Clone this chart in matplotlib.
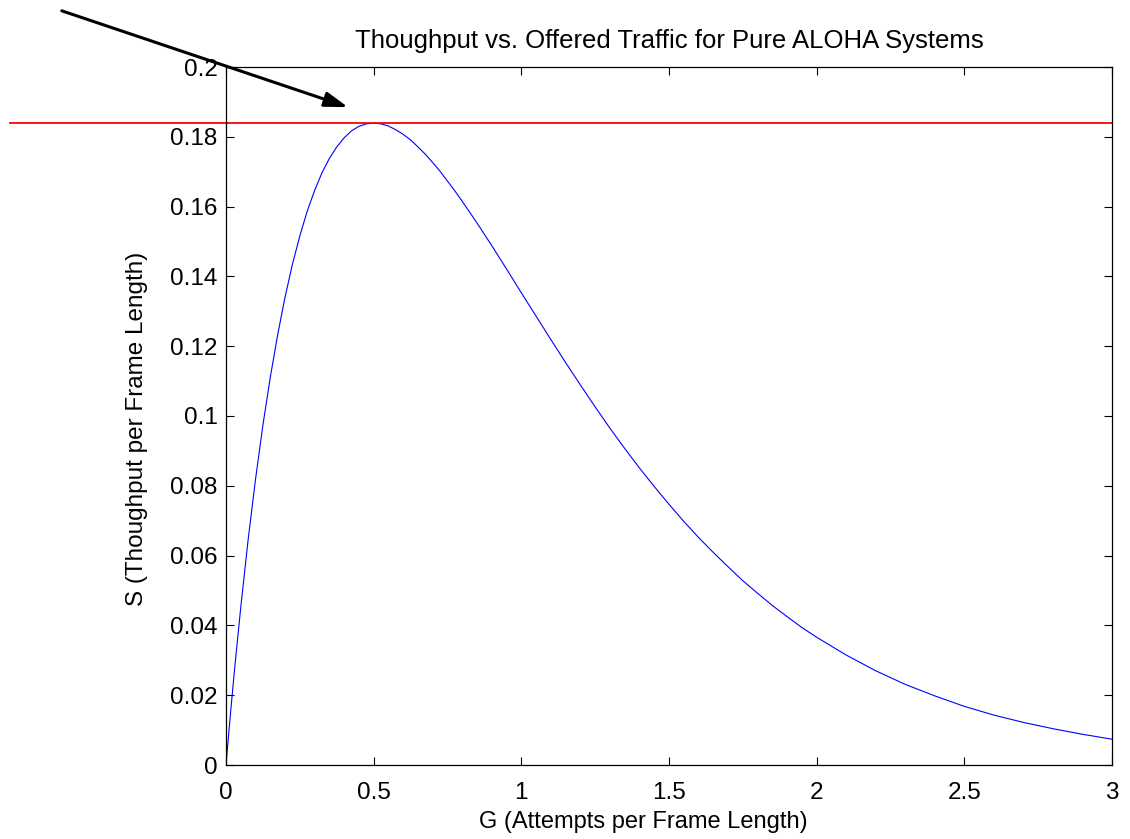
"""Pure ALOHA throughput vs offered traffic, MATLAB-style figure."""
import matplotlib
matplotlib.use("Agg")
import matplotlib.pyplot as plt

plt.rcParams["font.family"] = ["Liberation Sans", "DejaVu Sans"]

# offered traffic G and throughput S
G = [0.0, 0.01, 0.02, 0.03, 0.05, 0.075, 0.1, 0.125, 0.15, 0.175, 0.2,
     0.225, 0.25, 0.275, 0.3, 0.325, 0.35, 0.375, 0.4, 0.425, 0.45, 0.475,
     0.5, 0.525, 0.55, 0.575, 0.6, 0.625, 0.65, 0.675, 0.7, 0.725, 0.75,
     0.775, 0.8, 0.85, 0.9, 0.95, 1.0, 1.05, 1.1, 1.15, 1.2, 1.25, 1.3,
     1.35, 1.4, 1.45, 1.5, 1.55, 1.6, 1.65, 1.7, 1.75, 1.8, 1.85, 1.9,
     1.95, 2.0, 2.1, 2.2, 2.3, 2.4, 2.5, 2.6, 2.7, 2.8, 2.9, 3.0]
S = [0.0, 0.0098, 0.0192, 0.0283, 0.0452, 0.0646, 0.0819, 0.0974, 0.1111,
     0.1233, 0.1341, 0.1435, 0.1516, 0.1587, 0.1646, 0.1697, 0.1738, 0.1771,
     0.1797, 0.1817, 0.1830, 0.1837, 0.1839, 0.1837, 0.1831, 0.1820, 0.1807,
     0.1791, 0.1771, 0.1750, 0.1726, 0.1701, 0.1673, 0.1645, 0.1615, 0.1553,
     0.1488, 0.1421, 0.1353, 0.1286, 0.1219, 0.1153, 0.1089, 0.1026, 0.0965,
     0.0907, 0.0851, 0.0798, 0.0747, 0.0698, 0.0652, 0.0609, 0.0568, 0.0528,
     0.0492, 0.0457, 0.0425, 0.0394, 0.0366, 0.0315, 0.0270, 0.0231, 0.0198,
     0.0168, 0.0143, 0.0122, 0.0104, 0.0088, 0.0074]
S_MAX = 0.1839  # 1/(2e), peak marker
xticks = [0, 0.5, 1, 1.5, 2, 2.5, 3]
yticks = [0, 0.02, 0.04, 0.06, 0.08, 0.1, 0.12, 0.14, 0.16, 0.18, 0.2]
ytick_labels = ["0", "0.02", "0.04", "0.06", "0.08", "0.1", "0.12", "0.14",
                "0.16", "0.18", "0.2"]

fig = plt.figure(figsize=(11.3, 8.39), dpi=100)
ax = fig.add_axes([226 / 1130, 1 - 765 / 839, 886 / 1130, 698 / 839])

ax.plot(G, S, color=(0, 0, 1), lw=0.8)
ax.plot([-0.73, 3.0], [S_MAX, S_MAX], color="red", lw=1.3, clip_on=False)
ax.annotate("", xy=(0.413, 0.1885), xytext=(-0.556, 0.2161),
            arrowprops=dict(arrowstyle="-|>,head_length=1.4,head_width=0.45",
                            color="black", lw=2.2, shrinkA=0, shrinkB=0),
            annotation_clip=False)

ax.set_xlim(0, 3)
ax.set_ylim(0, 0.2)
ax.set_xticks(xticks)
ax.set_xticklabels([f"{t:g}" for t in xticks])
ax.set_yticks(yticks)
ax.set_yticklabels(ytick_labels)
ax.tick_params(direction="in", length=6, width=0.8, top=True, right=True,
               labelsize=17.5)
ax.tick_params(axis="x", pad=12)
ax.tick_params(axis="y", pad=6)
for sp in ax.spines.values():
    sp.set_linewidth(0.9)

ax.set_title("Thoughput vs. Offered Traffic for Pure ALOHA Systems",
             fontsize=18.5, pad=14)
ax.set_xlabel("G (Attempts per Frame Length)", fontsize=17)
ax.set_ylabel("S (Thoughput per Frame Length)", fontsize=17.5)
ax.xaxis.set_label_coords(0.4707, -0.066)
ax.yaxis.set_label_coords(-0.088, 0.481)

fig.savefig("out.png", dpi=100)
